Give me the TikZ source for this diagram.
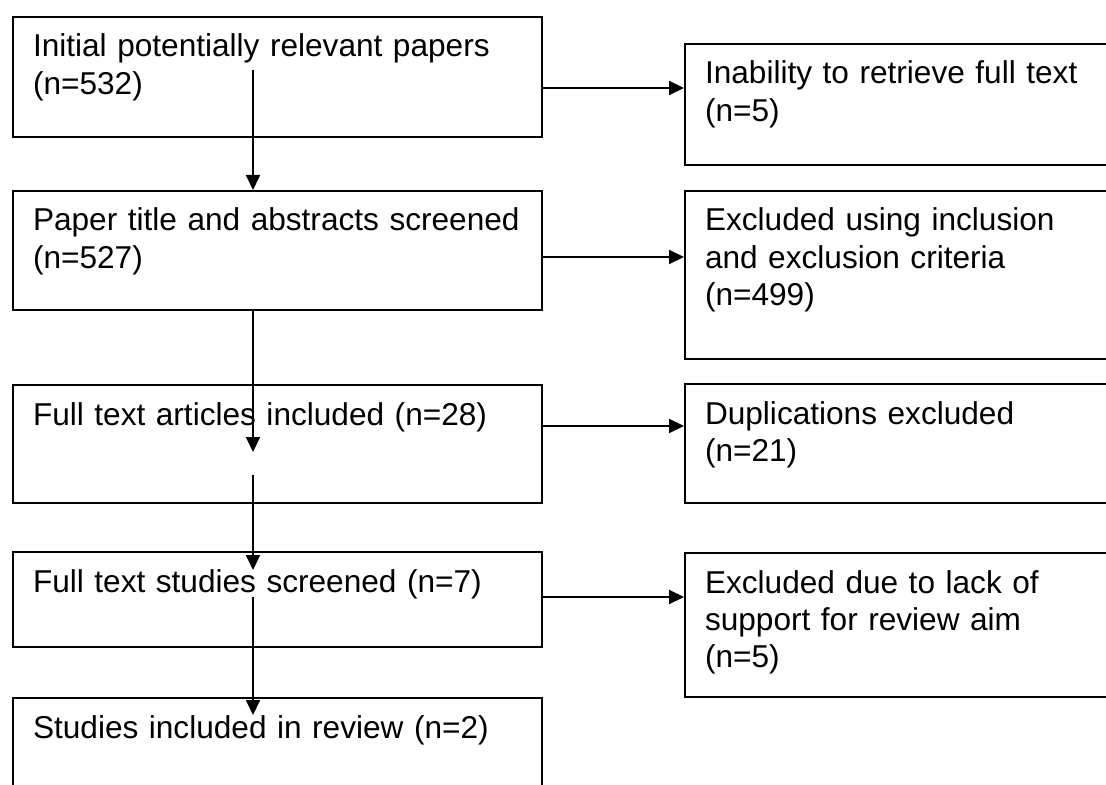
\documentclass[tikz,border=0pt]{standalone}
\usepackage{fontspec}
\setmainfont{Liberation Sans}
\usepackage{tikz}
\usetikzlibrary{arrows.meta}
\definecolor{ink}{HTML}{000000}
\tikzset{
  stage/.style={draw=ink, line width=1pt, anchor=north west, align=left,
    inner xsep=10pt, inner ysep=0pt, text height=20pt,
    font=\fontsize{15.8}{18.7}\selectfont},
  keep/.style={stage, text width=244.5pt},
  drop/.style={stage, text width=203pt},
  flow/.style={draw=ink, line width=1pt, -{Triangle[length=7.5pt,width=7pt]}},
}

\begin{document}
\begin{tikzpicture}[x=0.5pt, y=-0.5pt]
  \clip (0,0) rectangle (1106,785);
  % main column
  \node[keep, text depth=40pt]   (b1) at (12,16)  {Initial potentially relevant papers\\(n=532)};
  \node[keep, text depth=39.5pt] (b2) at (12,190) {Paper title and abstracts screened\\(n=527)};
  \node[keep, text depth=39pt]   (b3) at (12,384) {Full text articles included (n=28)};
  \node[keep, text depth=27.5pt] (b4) at (12,551) {Full text studies screened (n=7)};
  \node[keep, text depth=50pt]   (b5) at (12,697) {Studies included in review (n=2)};
  % excluded column
  \node[drop, text depth=40.5pt] (r1) at (684,43)  {Inability to retrieve full text\\(n=5)};
  \node[drop, text depth=64pt]   (r2) at (684,190) {Excluded using inclusion\\and exclusion criteria\\(n=499)};
  \node[drop, text depth=39.5pt] (r3) at (684,383) {Duplications excluded\\(n=21)};
  \node[drop, text depth=52pt]   (r4) at (684,552) {Excluded due to lack of\\support for review aim\\(n=5)};

  \coordinate (s1) at (253,70);
  \coordinate (e2) at (253,452);
  \coordinate (s3) at (253,475);
  \coordinate (e3) at (253,570);
  \coordinate (s4) at (253,597);
  \coordinate (e4) at (253,715);

  \draw[flow] (s1) -- (s1 |- b2.north);
  \draw[flow] (b2.south -| e2) -- (e2);
  \draw[flow] (s3) -- (e3);
  \draw[flow] (s4) -- (e4);

  \draw[flow] (b1.east |- 0,88)  -- (r1.west |- 0,88);
  \draw[flow] (b2.east |- 0,257) -- (r2.west |- 0,257);
  \draw[flow] (b3.east |- 0,426) -- (r3.west |- 0,426);
  \draw[flow] (b4.east |- 0,597) -- (r4.west |- 0,597);
\end{tikzpicture}
\end{document}
